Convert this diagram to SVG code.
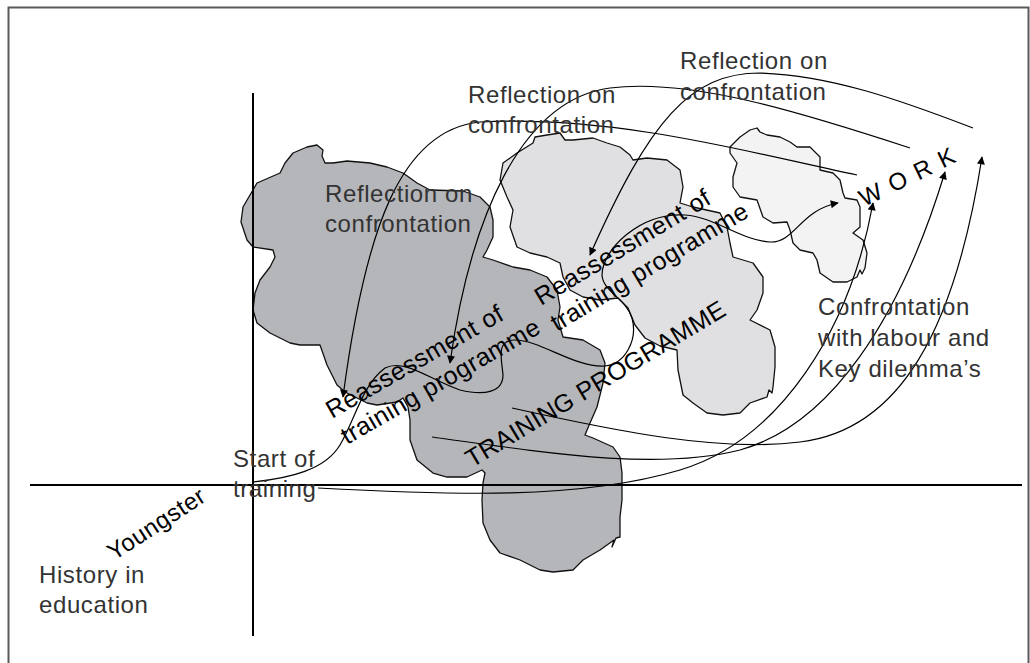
<svg xmlns="http://www.w3.org/2000/svg" width="1030" height="663" viewBox="0 0 1030 663">
<defs>
<marker id="ah" viewBox="0 0 10 10" refX="9" refY="5" markerWidth="9" markerHeight="8" markerUnits="userSpaceOnUse" orient="auto">
<path d="M0,0 L10,5 L0,10 z" fill="#000"/>
</marker>
<style>
.blob{stroke:#111;stroke-width:1.3;stroke-linejoin:round}
.ln{fill:none;stroke:#000;stroke-width:1.2}
.ax{stroke:#000;stroke-width:2}
.lbl{font-family:"Liberation Sans",Arial,sans-serif;font-size:24px;fill:#333;letter-spacing:0.6px}
.rot{font-family:"Liberation Sans",Arial,sans-serif;font-size:25px;fill:#000;letter-spacing:0.5px}
</style>
</defs>
<rect x="8.5" y="7.5" width="1020" height="665" fill="#fff" stroke="#5a5a5a" stroke-width="2"/>

<g id="blob-work">
<path class="blob" fill="#f3f3f3" d="M730,147 L740,137 L750,130 L757,128 L760,132 L767,135 L780,137 L790,142 L797,147 L810,147 L820,157 L820,170 L833,173 L840,180 L843,193 L845,198 L857,200 L860,207 L860,227 L853,233 L863,240 L867,253 L865,268 L862,274 L860,270 L857,277 L847,282 L833,282 L820,273 L817,260 L813,253 L800,250 L793,243 L790,230 L787,222 L773,223 L763,217 L757,200 L740,197 L733,187 L733,177 L737,163 L730,153 Z"/>
</g>
<g id="blob-middle">
<path class="blob" fill="#e0e0e2" d="M503,163 L517,153 L533,143 L535,137 L547,135 L560,133 L565,140 L573,140 L593,138 L607,143 L620,147 L630,155 L633,160 L647,158 L667,160 L680,170 L683,187 L680,203 L693,207 L720,213 L727,227 L730,243 L733,257 L753,263 L763,277 L763,293 L757,310 L750,320 L770,330 L775,347 L775,367 L773,387 L772,393 L769,390 L767,397 L750,403 L740,413 L723,415 L707,413 L693,403 L683,395 L678,370 L677,350 L660,346 L645,338 L635,325 L628,308 L618,298 L600,300 L583,297 L570,290 L563,277 L560,263 L547,257 L530,253 L517,247 L510,227 L513,210 L507,197 L500,180 Z"/>
</g>
<g id="blob-training">
<path class="blob" fill="#b5b6ba" d="M243,207 L257,183 L280,173 L285,163 L293,153 L307,147 L317,145 L323,150 L322,156 L325,163 L333,163 L347,161 L370,163 L387,167 L403,173 L417,183 L430,190 L463,191 L480,197 L490,207 L493,220 L493,237 L487,250 L483,257 L493,260 L513,267 L530,270 L547,277 L557,290 L560,307 L558,320 L563,337 L583,340 L600,350 L605,363 L603,383 L597,407 L590,423 L585,435 L593,438 L613,447 L620,457 L622,473 L622,500 L620,517 L620,537 L616,538 L612,547 L614,540 L600,550 L583,560 L573,570 L553,572 L540,570 L520,560 L500,553 L490,540 L483,523 L482,500 L483,483 L485,473 L482,470 L467,477 L447,477 L433,473 L417,460 L410,440 L410,420 L408,407 L403,398 L397,402 L377,405 L367,403 L357,398 L345,392 L337,385 L327,365 L320,345 L300,345 L290,343 L270,333 L257,323 L253,310 L255,293 L260,280 L270,267 L275,257 L273,250 L253,247 L247,240 L241,222 Z"/>
</g>

<g id="axes">
<line class="ax" x1="253" y1="93" x2="253" y2="636"/>
<line class="ax" x1="30" y1="485" x2="1022" y2="485"/>
</g>

<g id="connectors">
<path class="ln" marker-end="url(#ah)" d="M857,175 C 760,155 620,115 480,122 C 400,130 365,230 343,397"/>
<path class="ln" marker-end="url(#ah)" d="M910,148 C 800,112 690,78 610,88 C 520,100 470,220 450,363"/>
<path class="ln" marker-end="url(#ah)" d="M973,128 C 900,100 830,75 760,73 C 690,73 650,120 590,255"/>
<path class="ln" marker-end="url(#ah)" d="M512,408 C 620,432 720,452 800,442 C 900,430 955,330 982,157"/>
<path class="ln" marker-end="url(#ah)" d="M432,437 C 560,455 660,470 740,450 C 830,425 900,320 945,172"/>
<path class="ln" marker-end="url(#ah)" d="M318,488 C 450,495 580,500 680,470 C 780,440 850,330 873,203"/>
<path class="ln" marker-end="url(#ah)" d="M253,482 C 290,478 325,470 340,445 C 355,420 362,385 385,368 C 405,358 430,380 460,390 C 485,396 503,392 503,375 C 502,360 495,340 515,340 C 540,340 575,368 605,366 C 625,364 638,340 632,318 C 626,298 603,292 602,275 C 602,250 640,212 685,215 C 715,217 740,240 770,242 C 795,243 800,210 838,203"/>
</g>

<g id="labels">
<text class="lbl" x="325" y="202">Reflection on</text>
<text class="lbl" x="325" y="232">confrontation</text>
<text class="lbl" x="468" y="103">Reflection on</text>
<text class="lbl" x="468" y="133">confrontation</text>
<text class="lbl" x="680" y="69">Reflection on</text>
<text class="lbl" x="680" y="100">confrontation</text>
<text class="lbl" x="818" y="315">Confrontation</text>
<text class="lbl" x="818" y="346">with labour and</text>
<text class="lbl" x="818" y="377">Key dilemma’s</text>
<text class="lbl" x="233" y="467">Start of</text>
<text class="lbl" x="233" y="497">training</text>
<text class="lbl" x="39" y="583">History in</text>
<text class="lbl" x="39" y="613">education</text>
<text class="rot" style="font-size:24px" transform="translate(114,561) rotate(-33)">Youngster</text>
<text class="rot" transform="translate(332,419) rotate(-30)">Reassessment of</text>
<text class="rot" transform="translate(347,445) rotate(-30)">training programme</text>
<text class="rot" transform="translate(541,306) rotate(-31)">Reassessment of</text>
<text class="rot" transform="translate(557,332) rotate(-31)">training programme</text>
<text class="rot" style="letter-spacing:0.3px" transform="translate(472,468) rotate(-31)">TRAINING PROGRAMME</text>
<text class="rot" style="font-size:24px;letter-spacing:1.5px" transform="translate(864,207) rotate(-26)">W O R K</text>
</g>
</svg>
